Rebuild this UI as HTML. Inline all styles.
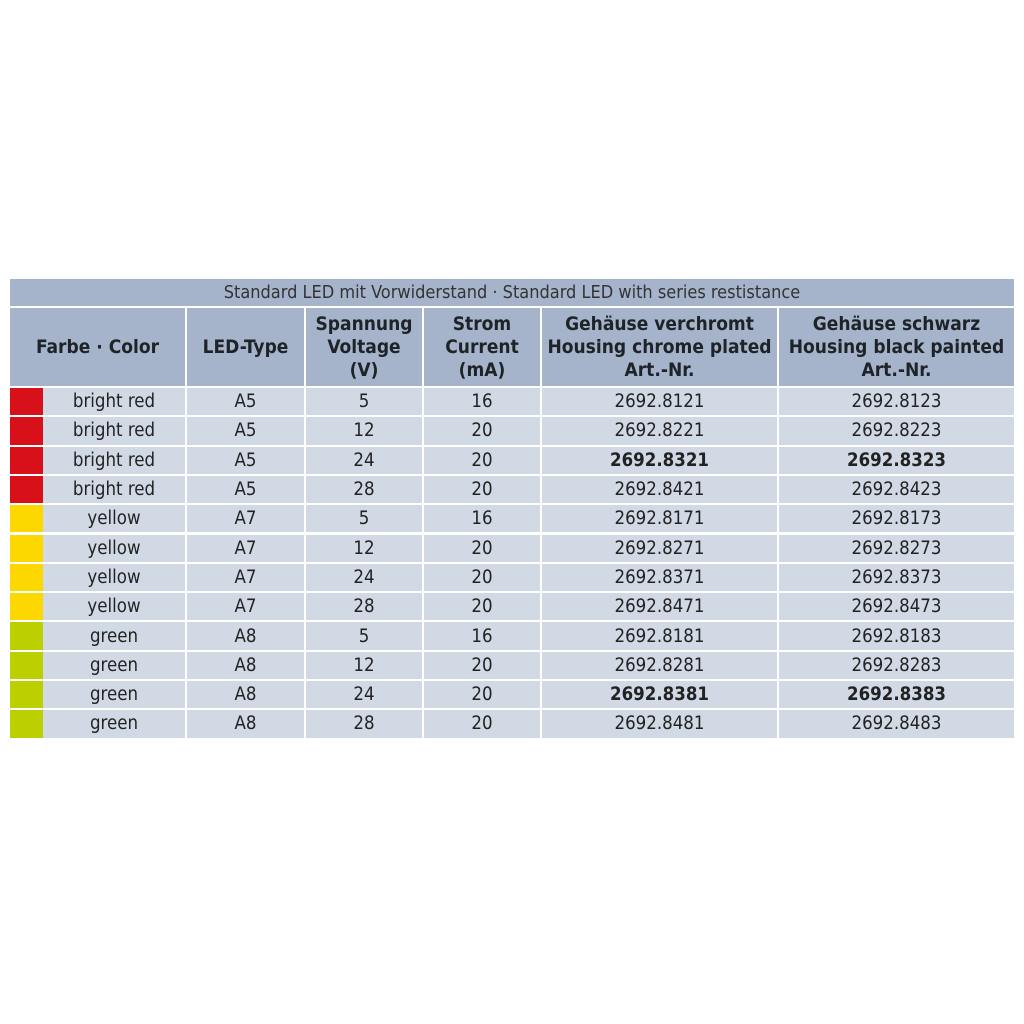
<!DOCTYPE html>
<html><head><style>
body{margin:0;width:1024px;height:1024px;background:#fff;position:relative;font-family:"DejaVu Sans Condensed","Liberation Sans Narrow","Liberation Sans",sans-serif;color:#222;}
.c{position:absolute;display:flex;align-items:center;justify-content:center;text-align:center;box-sizing:border-box;}
.h{background:#a5b3cb;font-weight:bold;font-size:19px;line-height:23px;color:#1e2328;}
.r{background:#d1d9e5;font-size:18.5px;}
.b{font-weight:bold;}
</style></head><body>
<div class="c" style="left:10px;top:279px;width:1004px;height:27px;background:#a5b3cb;font-size:18px;color:#333;">Standard LED mit Vorwiderstand · Standard LED with series restistance</div>
<div class="c h" style="left:10px;top:308px;width:175px;height:78px;">Farbe · Color</div>
<div class="c h" style="left:187px;top:308px;width:117px;height:78px;">LED-Type</div>
<div class="c h" style="left:306px;top:308px;width:116px;height:78px;">Spannung<br>Voltage<br>(V)</div>
<div class="c h" style="left:424px;top:308px;width:116px;height:78px;">Strom<br>Current<br>(mA)</div>
<div class="c h" style="left:542px;top:308px;width:235px;height:78px;">Gehäuse verchromt<br>Housing chrome plated<br>Art.-Nr.</div>
<div class="c h" style="left:779px;top:308px;width:235px;height:78px;">Gehäuse schwarz<br>Housing black painted<br>Art.-Nr.</div>
<div id="rows"></div>
<script>
var d=[["#d7101a","bright red","A5","5","16","2692.8121","2692.8123",0],
["#d7101a","bright red","A5","12","20","2692.8221","2692.8223",0],
["#d7101a","bright red","A5","24","20","2692.8321","2692.8323",1],
["#d7101a","bright red","A5","28","20","2692.8421","2692.8423",0],
["#fdd800","yellow","A7","5","16","2692.8171","2692.8173",0],
["#fdd800","yellow","A7","12","20","2692.8271","2692.8273",0],
["#fdd800","yellow","A7","24","20","2692.8371","2692.8373",0],
["#fdd800","yellow","A7","28","20","2692.8471","2692.8473",0],
["#bccf00","green","A8","5","16","2692.8181","2692.8183",0],
["#bccf00","green","A8","12","20","2692.8281","2692.8283",0],
["#bccf00","green","A8","24","20","2692.8381","2692.8383",1],
["#bccf00","green","A8","28","20","2692.8481","2692.8483",0]];
var cols=[[43,142],[187,117],[306,116],[424,116],[542,235],[779,235]];
var h="";
d.forEach(function(r,i){
var y=388+i*29.3, hh=27.3;
h+='<div class="c" style="left:10px;top:'+y+'px;width:33px;height:'+hh+'px;background:'+r[0]+'"></div>';
for(var j=0;j<6;j++){
var bold=(r[7]&&j>=4)?' b':'';
h+='<div class="c r'+bold+'" style="left:'+cols[j][0]+'px;top:'+y+'px;width:'+cols[j][1]+'px;height:'+hh+'px;">'+r[j+1]+'</div>';
}});
document.getElementById("rows").innerHTML=h;
</script>
</body></html>
